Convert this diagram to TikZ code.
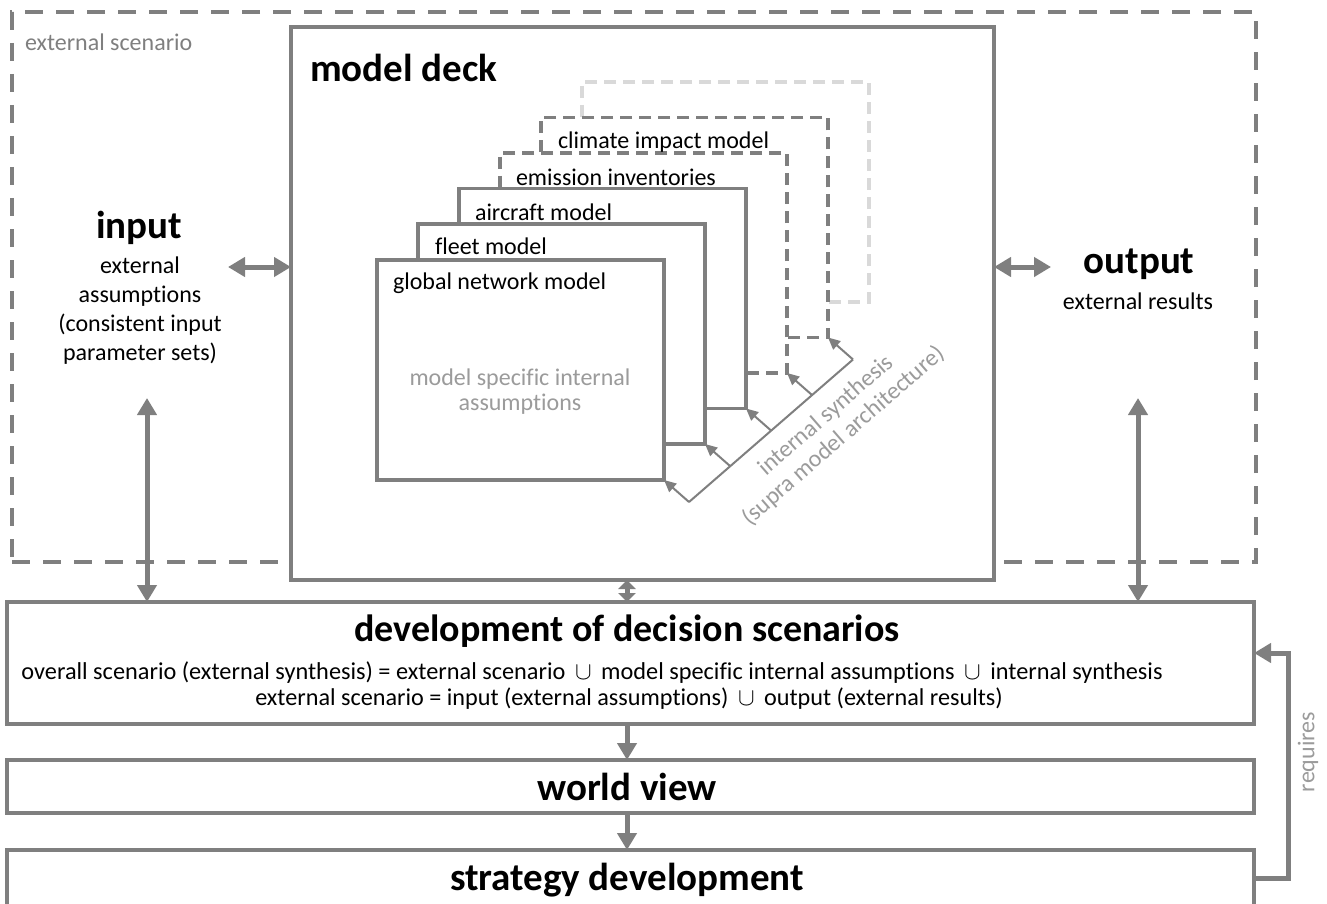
\documentclass[tikz,border=0pt]{standalone}
\usepackage{fontspec}
\setmainfont{Carlito}[Ligatures={NoCommon}]
\usetikzlibrary{arrows.meta,calc}
\definecolor{linegray}{HTML}{7F7F7F}
\definecolor{palegray}{HTML}{D9D9D9}
\definecolor{textgray}{HTML}{9B9B9B}

\begin{document}
\begin{tikzpicture}[x=1pt,y=-1pt,
  every node/.style={inner sep=0pt,outer sep=0pt},
  small/.style={font=\fontsize{24}{29}\selectfont},
  big/.style={font=\fontsize{39}{44}\selectfont\bfseries},
  frame/.style={draw=linegray,line width=3.5pt,fill=white,rectangle},
  dashframe/.style={frame,dash pattern=on 12pt off 7pt},
  layer/.style={minimum width=287pt,minimum height=220pt},
  layerlabel/.style={small,anchor=west},
  bigarrow/.style={draw=linegray,line width=5pt,{Triangle[length=17pt,width=19pt]}-{Triangle[length=17pt,width=19pt]}},
  shortarrow/.style={draw=linegray,line width=5pt,{Triangle[length=9pt,width=17pt]}-{Triangle[length=9pt,width=17pt]}},
  onearrow/.style={draw=linegray,line width=5pt,-{Triangle[length=17pt,width=19pt]}},
  thinarrow/.style={draw=linegray,line width=2pt,-{Triangle[length=12pt,width=11pt]}}
]
\useasboundingbox (0,0) rectangle (1327,904);
\clip (0,0) rectangle (1327,904);

% external scenario frame
\node[draw=linegray,line width=3.5pt,dash pattern=on 18pt off 13pt,
      minimum width=1244pt,minimum height=550pt] (ext) at (634,287) {};
\node[small,text=linegray,anchor=west] (extlbl) at (25,42) {external scenario};

% model deck
\node[frame,minimum width=703pt,minimum height=553pt] (deck) at (642.5,303.5) {};
\node[big,anchor=west] (decklbl) at (310,68) {model deck};

% stacked models, back to front
\node[dashframe,draw=palegray,layer,anchor=north west] (m6) at (582,82) {};
\node[dashframe,layer,anchor=north west] (m5) at (541,117.5) {};
\node[dashframe,layer,anchor=north west] (m4) at (500,153) {};
\node[frame,layer,anchor=north west] (m3) at (459,188.5) {};
\node[frame,layer,anchor=north west] (m2) at (418,224) {};
\node[frame,layer,anchor=north west] (m1) at (377,260) {};

\node[layerlabel] (l5) at ($(m5.north west)+(17,25)$) {climate impact model};
\node[layerlabel] (l4) at ($(m4.north west)+(16,24)$) {emission inventories};
\node[layerlabel] (l3) at ($(m3.north west)+(16,24)$) {aircraft model};
\node[layerlabel] (l2) at ($(m2.north west)+(17,22)$) {fleet model};
\node[layerlabel] (l1) at ($(m1.north west)+(16,23)$) {global network model};

\node[small,text=textgray,align=center,font=\fontsize{24}{25}\selectfont] (msia) at (520,392)
  {model specific internal\\assumptions};

% internal synthesis
\coordinate (s1) at ($(m1.south east)+(25,22)$);
\coordinate (s2) at ($(m2.south east)+(25,22)$);
\coordinate (s3) at ($(m3.south east)+(25,22)$);
\coordinate (s4) at ($(m4.south east)+(25,22)$);
\coordinate (s5) at ($(m5.south east)+(25,22)$);
\draw[linegray,line width=2pt] (s1) -- (s5);
\draw[thinarrow] (s1) -- (m1.south east);
\draw[thinarrow] (s2) -- (m2.south east);
\draw[thinarrow] (s3) -- (m3.south east);
\draw[thinarrow] (s4) -- (m4.south east);
\draw[thinarrow] (s5) -- (m5.south east);
\node[small,text=textgray,align=center,rotate=41,font=\fontsize{24}{27}\selectfont] (synth) at (835,426)
  {internal synthesis\\(supra model architecture)};

% input and output
\node[big] (intitle) at (139,228) {input};
\node[small,align=center,anchor=north,font=\fontsize{24}{29}\selectfont] (inbody) at (140,257)
  {external\\assumptions\\(consistent input\\parameter sets)};
\node[big] (outtitle) at (1139,264) {output};
\node[small] (outbody) at (1138,301) {external results};

% decision levels
\node[frame,minimum width=1247pt,minimum height=122pt] (dev) at (630.5,663) {};
\node[frame,minimum width=1247pt,minimum height=53pt] (world) at (630.5,786.5) {};
\node[frame,minimum width=1247pt,minimum height=100pt] (strat) at (630.5,900) {};
\node[big,font=\fontsize{38}{44}\selectfont\bfseries] (devtitle) at (627,631) {development of decision scenarios};
\node[small,font=\fontsize{24.3}{29}\selectfont] (devl1) at (592,673) {overall scenario (external synthesis) = external scenario \,$\cup$\, model specific internal assumptions \,$\cup$\, internal synthesis};
\node[small,font=\fontsize{24.2}{29}\selectfont] (devl2) at (629,699) {external scenario = input (external assumptions) \,$\cup$\, output (external results)};
\node[big] (worldtitle) at (627,787) {world view};
\node[big] (strattitle) at (627,880) {strategy development};

% connectors
\coordinate (inL) at (228,267);
\coordinate (outR) at (1051,267);
\coordinate (inD) at (147,398);
\coordinate (outD) at (1138,398);
\coordinate (mid) at (627,0);
\draw[bigarrow] (inL) -- (inL -| deck.west);
\draw[bigarrow] (deck.east |- outR) -- (outR);
\draw[bigarrow] (inD) -- (inD |- dev.north);
\draw[bigarrow] (outD) -- (outD |- dev.north);
\draw[shortarrow] (mid |- deck.south) -- (mid |- dev.north);
\draw[onearrow] (mid |- dev.south) -- (mid |- world.north);
\draw[onearrow] (mid |- world.south) -- (mid |- strat.north);

\coordinate (rq) at (1288,0);
\draw[onearrow] (strat.east |- 0,878) -- (rq |- 0,878) -- (rq |- 0,653) -- (dev.east |- 0,653);
\node[small,text=textgray,rotate=90] (req) at (1308,752) {requires};
\end{tikzpicture}
\end{document}
